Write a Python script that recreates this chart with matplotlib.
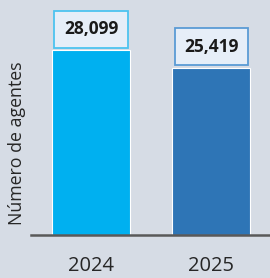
import matplotlib
matplotlib.use("Agg")
import matplotlib.pyplot as plt

years = ["2024", "2025"]
values = [28099, 25419]
colors = ["#00b0f0", "#2e75b6"]
box_edges = ["#4dc3f0", "#5b9bd5"]
labels = ["28,099", "25,419"]

bg = "#d6dce5"
plt.rcParams['font.family'] = ['Open Sans', 'DejaVu Sans']

fig = plt.figure(figsize=(2.70, 2.78), dpi=100, facecolor=bg)
ax = fig.add_axes([31/270, 1 - 235/278, 1 - 31/270, 225/278], facecolor=bg)

x = [0, 1]
bars = ax.bar(x, values, width=0.65, color=colors, edgecolor="white", linewidth=0.8)
ax.set_xlim(-0.5, 1.4875)
ax.set_ylim(0, 34200)

for xi, v, lab, ec in zip(x, values, labels, box_edges):
    t = ax.annotate(lab, (xi, v), xytext=(0, 15), textcoords="offset points",
                    ha="center", va="center", fontsize=12.5, fontweight="bold", color="#1a1a1a",
                    bbox=dict(boxstyle="square,pad=0.55", facecolor="#e6eef8", edgecolor=ec, linewidth=1.3),
                    annotation_clip=False)
    t.set_clip_on(True)
    t.set_clip_box(ax.bbox)

for s in ["top", "right", "left"]:
    ax.spines[s].set_visible(False)
ax.spines["bottom"].set_color("#595959")
ax.spines["bottom"].set_linewidth(1.8)
ax.set_yticks([])
ax.set_xticks(x)
ax.set_xticklabels(years, fontsize=14.5, color="#262626")
ax.tick_params(axis="x", length=0, pad=15)
fig.text(17.5/270, 1 - 143/278, "Número de agentes", rotation=90, ha="center", va="center",
         fontsize=12.8, color="#262626")

fig.savefig("out.png", dpi=100, facecolor=bg)
